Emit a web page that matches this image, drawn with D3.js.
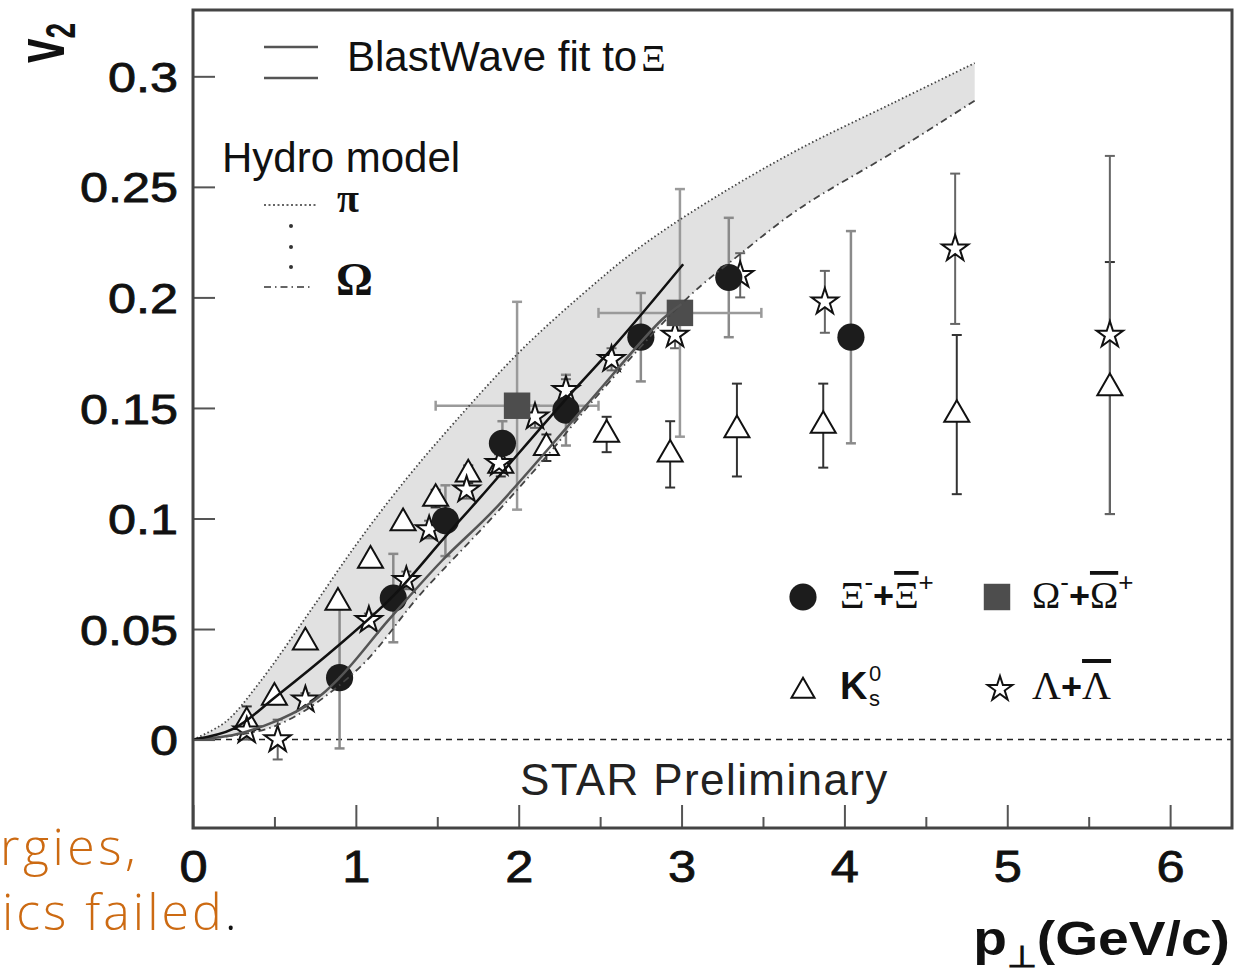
<!DOCTYPE html>
<html><head><meta charset="utf-8">
<script src="https://cdn.jsdelivr.net/npm/d3@7"></script>
<style>
body{margin:0;background:#fff;}
svg{display:block;}
</style></head><body>
<svg id="c" width="1236" height="974"></svg>
<script>
// ---------- data ----------
const xTicks=[0,1,2,3,4,5,6];
const xMinorTicks=[0.5,1.5,2.5,3.5,4.5,5.5];
const yTicks=[0,0.05,0.1,0.15,0.2,0.25,0.3];
const yTickLabels=["0","0.05","0.1","0.15","0.2","0.25","0.3"];

// Xi- + anti-Xi+ (filled circles)
const xiPt=[0.90,1.23,1.55,1.90,2.29,2.75,3.29,4.04];
const xiV2=[0.028,0.064,0.099,0.134,0.149,0.182,0.209,0.182];
const xiErr=[0.032,0.020,0.016,0.010,0.016,0.020,0.027,0.048];
// Omega- + anti-Omega+ (filled squares)
const omPt=[1.99,2.99];
const omV2=[0.151,0.193];
const omErr=[0.047,0.056];
const omXErr=[0.5,0.5];
// K0s (open triangles)
const kPt=[0.33,0.50,0.69,0.89,1.09,1.29,1.49,1.69,1.89,2.17,2.54,2.93,3.34,3.87,4.69,5.63];
const kV2=[0.008,0.019,0.044,0.062,0.081,0.098,0.109,0.120,0.124,0.132,0.138,0.129,0.140,0.142,0.147,0.159];
const kErr=[0.007,0.003,0.003,0.003,0.003,0.003,0.004,0.004,0.005,0.006,0.008,0.015,0.021,0.019,0.036,0.057];
// Lambda + anti-Lambda (open stars)
const laPt=[0.33,0.52,0.69,1.08,1.31,1.45,1.68,1.88,2.10,2.29,2.57,2.96,3.36,3.88,4.68,5.63];
const laV2=[0.004,0.000,0.018,0.054,0.072,0.095,0.113,0.125,0.146,0.158,0.172,0.183,0.210,0.198,0.222,0.183];
const laErr=[0.004,0.009,0.003,0.003,0.004,0.004,0.004,0.004,0.005,0.005,0.005,0.006,0.010,0.014,0.034,0.081];

// Hydro model curves (band edges)
const piPt=[0,0.2,0.4,0.7,1.0,1.3,1.6,2.0,2.4,2.75,3.2,3.72,4.3,4.8];
const piV2=[0,0.008,0.025,0.056,0.088,0.117,0.143,0.175,0.202,0.223,0.245,0.267,0.288,0.306];
const omHydPt=[0,0.5,1.0,1.4,1.82,2.17,2.5,3.04,3.35,3.72,4.33,4.8];
const omHydV2=[0,0.006,0.031,0.066,0.099,0.128,0.157,0.200,0.219,0.240,0.267,0.289];
// BlastWave fit to Xi (two lines)
const bwUpPt=[0,0.25,0.51,0.9,1.23,1.54,1.77,2.29,2.61,3.01];
const bwUpV2=[0,0.005,0.0195,0.043,0.065,0.091,0.110,0.154,0.180,0.215];
const bwLoPt=[0,0.3,0.69,0.9,1.2,1.53,1.85,2.4,2.88,3.0];
const bwLoV2=[0,0.003,0.015,0.028,0.054,0.081,0.104,0.150,0.190,0.197];

// ---------- chart ----------
const svg=d3.select("#c");
const L=193,R=1232,T=10,B=828;
const x=d3.scaleLinear().domain([0,6.38]).range([L,R]);
const y=d3.scaleLinear().domain([-0.04,0.33]).range([B,T]);
const SANS="'Liberation Sans', Arial, sans-serif";
const SERIF="'Liberation Serif', 'Times New Roman', serif";

const lineGen=d3.line().x(d=>x(d[0])).y(d=>y(d[1])).curve(d3.curveCatmullRom.alpha(0.5));
const zip=(a,b)=>a.map((v,i)=>[v,b[i]]);

// band
const upPts=zip(piPt,piV2), loPts=zip(omHydPt,omHydV2);
const bandD=lineGen(upPts)+"L"+lineGen(loPts.slice().reverse()).slice(1)+"Z";
svg.append("path").attr("d",bandD).attr("fill","#e1e1e1").attr("stroke","none");

// zero line
svg.append("line").attr("x1",L).attr("x2",R).attr("y1",y(0)).attr("y2",y(0))
  .attr("stroke","#222").attr("stroke-width",1.5).attr("stroke-dasharray","6,5");

// error bars
function errBars(px,pv,pe,color,w){
  const g=svg.append("g").attr("stroke",color).attr("stroke-width",w).attr("fill","none");
  px.forEach((p,i)=>{
    const cx=x(p), y1=y(pv[i]+pe[i]), y2=y(pv[i]-pe[i]);
    g.append("line").attr("x1",cx).attr("x2",cx).attr("y1",y1).attr("y2",y2);
    g.append("line").attr("x1",cx-5).attr("x2",cx+5).attr("y1",y1).attr("y2",y1);
    g.append("line").attr("x1",cx-5).attr("x2",cx+5).attr("y1",y2).attr("y2",y2);
  });
  return g;
}
errBars(kPt,kV2,kErr,"#333",2);
errBars(laPt,laV2,laErr,"#666",2);
errBars(xiPt,xiV2,xiErr,"#8a8a8a",2.5);
const og=errBars(omPt,omV2,omErr,"#9a9a9a",2.5);
omPt.forEach((p,i)=>{
  const cy=y(omV2[i]), x1=x(p-omXErr[i]), x2=x(p+omXErr[i]);
  og.append("line").attr("x1",x1).attr("x2",x2).attr("y1",cy).attr("y2",cy);
  og.append("line").attr("x1",x1).attr("x2",x1).attr("y1",cy-5).attr("y2",cy+5);
  og.append("line").attr("x1",x2).attr("x2",x2).attr("y1",cy-5).attr("y2",cy+5);
});

// markers
const triSym=d3.symbol(d3.symbolTriangle,271);
const starSym=d3.symbol(d3.symbolStar,215);
const circSym=d3.symbol(d3.symbolCircle,580);
const sqSym=d3.symbol(d3.symbolSquare,700);
function marks(px,pv,sym,fill,stroke,sw){
  svg.append("g").selectAll("path").data(px).join("path")
    .attr("transform",(d,i)=>`translate(${x(d)},${y(pv[i])})`)
    .attr("d",sym).attr("fill",fill).attr("stroke",stroke).attr("stroke-width",sw);
}
marks(kPt,kV2,triSym,"#fff","#111",2);
marks(laPt,laV2,starSym,"#fff","#111",2);
marks(xiPt,xiV2,circSym,"#1c1c1c","none",0);
marks(omPt,omV2,sqSym,"#4d4d4d","none",0);

// curves
svg.append("path").attr("d",lineGen(upPts)).attr("fill","none").attr("stroke","#444")
  .attr("stroke-width",1.8).attr("stroke-dasharray","1.5,2.5");
svg.append("path").attr("d",lineGen(loPts)).attr("fill","none").attr("stroke","#444")
  .attr("stroke-width",1.8).attr("stroke-dasharray","7,4,1.5,4");
svg.append("path").attr("d",lineGen(zip(bwLoPt,bwLoV2))).attr("fill","none").attr("stroke","#555").attr("stroke-width",2.5);
svg.append("path").attr("d",lineGen(zip(bwUpPt,bwUpV2))).attr("fill","none").attr("stroke","#111").attr("stroke-width",2.5);

// axes
const xAxis=svg.append("g").attr("transform",`translate(0,${B})`)
  .call(d3.axisBottom(x).tickValues(xTicks).tickSize(-23).tickSizeOuter(0).tickFormat(d3.format("d")));
xAxis.select(".domain").remove();
xAxis.selectAll(".tick line").attr("stroke","#555").attr("stroke-width",2);
xAxis.selectAll(".tick text").attr("y",54).attr("dy",0)
  .attr("font-family",SANS).attr("font-size",44).attr("fill","#111")
  .attr("stroke","#111").attr("stroke-width",0.8).attr("transform","scale(1.15,1)");
const xMinor=svg.append("g").attr("transform",`translate(0,${B})`)
  .call(d3.axisBottom(x).tickValues(xMinorTicks).tickSize(-11).tickSizeOuter(0).tickFormat(""));
xMinor.select(".domain").remove();
xMinor.selectAll(".tick line").attr("stroke","#555").attr("stroke-width",2);

const yAxis=svg.append("g").attr("transform",`translate(${L},0)`)
  .call(d3.axisLeft(y).tickValues(yTicks).tickSize(-22).tickSizeOuter(0).tickFormat((d,i)=>yTickLabels[i]));
yAxis.select(".domain").remove();
yAxis.selectAll(".tick line").attr("stroke","#555").attr("stroke-width",2);
yAxis.selectAll(".tick text").attr("x",-12.5).attr("dy","0.36em")
  .attr("font-family",SANS).attr("font-size",42).attr("fill","#111")
  .attr("stroke","#111").attr("stroke-width",0.8).attr("transform","scale(1.2,1)");

// frame
svg.append("rect").attr("x",L).attr("y",T).attr("width",R-L).attr("height",B-T)
  .attr("fill","none").attr("stroke","#444").attr("stroke-width",3);

// axis titles
const yl=svg.append("text").attr("transform","translate(64,63) scale(1.55,1) rotate(-90)")
  .attr("font-family",SANS).attr("font-weight","bold").attr("fill","#111");
yl.append("tspan").attr("font-size",44).text("v");
yl.append("tspan").attr("font-size",28).attr("dy",7).text("2");

const xl=svg.append("text").attr("transform","translate(1230,955) scale(1.15,1)")
  .attr("text-anchor","end").attr("font-family",SANS).attr("font-weight","bold").attr("fill","#111");
xl.append("tspan").attr("font-size",48).text("p");
xl.append("tspan").attr("font-size",30).attr("dy",12).text("\u22A5");
xl.append("tspan").attr("font-size",48).attr("dy",-12).text("(GeV/c)");

// top-left legend
const lg=svg.append("g");
lg.append("line").attr("x1",264).attr("x2",318).attr("y1",47).attr("y2",47).attr("stroke","#555").attr("stroke-width",2.5);
lg.append("line").attr("x1",264).attr("x2",318).attr("y1",78).attr("y2",78).attr("stroke","#555").attr("stroke-width",2.5);
const bwT=lg.append("text").attr("x",347).attr("y",71).attr("font-family",SANS).attr("font-size",42).attr("fill","#111");
bwT.append("tspan").text("BlastWave fit to");
bwT.append("tspan").attr("font-family",SERIF).attr("font-size",38).attr("dx",4).text("\u039E");
lg.append("text").attr("x",222).attr("y",172).attr("font-family",SANS).attr("font-size",42).attr("fill","#111").text("Hydro model");
lg.append("line").attr("x1",264).attr("x2",318).attr("y1",205).attr("y2",205).attr("stroke","#333").attr("stroke-width",1.5).attr("stroke-dasharray","2,2.5");
[226,247,267].forEach(v=>lg.append("circle").attr("cx",291).attr("cy",v).attr("r",2).attr("fill","#333"));
lg.append("line").attr("x1",264).attr("x2",312).attr("y1",287).attr("y2",287).attr("stroke","#333").attr("stroke-width",1.5).attr("stroke-dasharray","7,4,1.5,4");
lg.append("text").attr("x",337).attr("y",212).attr("font-family",SERIF).attr("font-weight","bold").attr("font-size",40).attr("fill","#111").text("\u03C0");
lg.append("text").attr("x",336).attr("y",295).attr("font-family",SERIF).attr("font-weight","bold").attr("font-size",46).attr("fill","#111").text("\u03A9");

// bottom-right legend
const lb=svg.append("g");
lb.append("path").attr("transform","translate(803,597)").attr("d",circSym).attr("fill","#1c1c1c");
lb.append("path").attr("transform","translate(997,597)").attr("d",sqSym).attr("fill","#4d4d4d");
lb.append("path").attr("transform","translate(803,691)").attr("d",d3.symbol(d3.symbolTriangle,230)).attr("fill","#fff").attr("stroke","#111").attr("stroke-width",2);
lb.append("path").attr("transform","translate(1000,689)").attr("d",d3.symbol(d3.symbolStar,190)).attr("fill","#fff").attr("stroke","#111").attr("stroke-width",2);
function pairLabel(px,py,glyph){
  const t=lb.append("text").attr("x",px).attr("y",py).attr("fill","#111");
  t.append("tspan").attr("font-family",SERIF).attr("font-size",38).text(glyph);
  t.append("tspan").attr("font-family",SANS).attr("font-size",26).attr("dy",-17).text("-");
  t.append("tspan").attr("font-family",SANS).attr("font-weight","bold").attr("font-size",36).attr("dy",17).text("+");
  t.append("tspan").attr("font-family",SERIF).attr("font-size",38).style("text-decoration","overline").text(glyph);
  t.append("tspan").attr("font-family",SANS).attr("font-size",26).attr("dy",-17).text("+");
}
pairLabel(840,608,"\u039E");
pairLabel(1032,608,"\u03A9");
lb.append("text").attr("x",840).attr("y",699).attr("font-family",SANS).attr("font-weight","bold").attr("font-size",38).attr("fill","#111").text("K");
lb.append("text").attr("x",869).attr("y",681).attr("font-family",SANS).attr("font-size",22).attr("fill","#111").text("0");
lb.append("text").attr("x",869).attr("y",706).attr("font-family",SANS).attr("font-size",22).attr("fill","#111").text("s");
const lt=lb.append("text").attr("x",1032).attr("y",699).attr("fill","#111");
lt.append("tspan").attr("font-family",SERIF).attr("font-size",40).text("\u039B");
lt.append("tspan").attr("font-family",SANS).attr("font-weight","bold").attr("font-size",36).text("+");
lt.append("tspan").attr("font-family",SERIF).attr("font-size",40).style("text-decoration","overline").text("\u039B");

// STAR Preliminary
svg.append("text").attr("x",520).attr("y",795).attr("font-family",SANS).attr("font-size",44)
  .attr("letter-spacing",1.4).attr("fill","#222").text("STAR Preliminary");

// cropped page text at left
const OR="#cc6a12";
svg.append("text").attr("x",0).attr("y",865).attr("font-family","'Open Sans', sans-serif").attr("font-weight",300)
  .attr("font-size",50).attr("letter-spacing",3.5).attr("fill",OR).text("rgies,");
const t2=svg.append("text").attr("x",2).attr("y",930).attr("font-family","'Open Sans', sans-serif").attr("font-weight",300)
  .attr("font-size",50).attr("letter-spacing",3).attr("fill",OR);
t2.append("tspan").text("ics failed");
t2.append("tspan").attr("fill","#111").text(".");
</script>
</body></html>
